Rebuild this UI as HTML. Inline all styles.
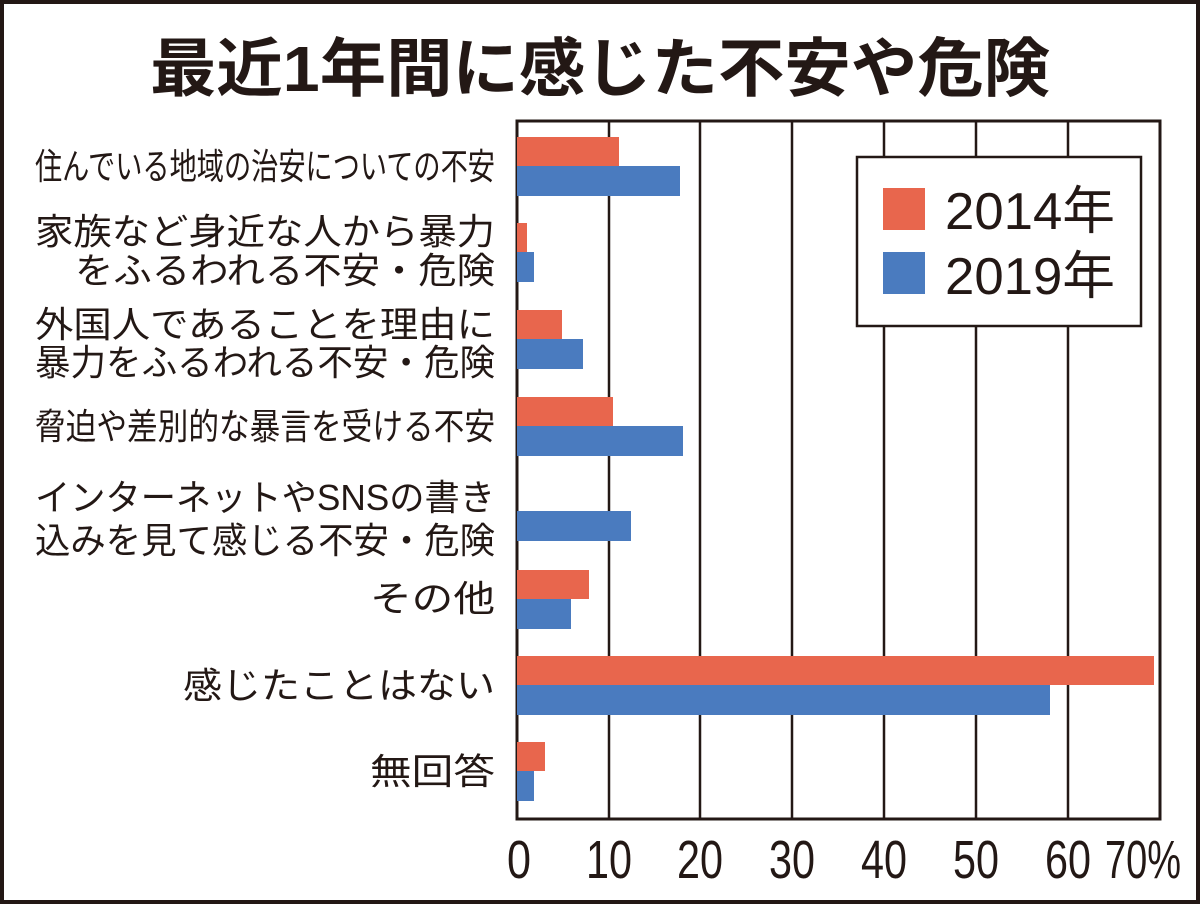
<!DOCTYPE html>
<html><head><meta charset="utf-8"><style>
html,body{margin:0;padding:0;background:#fff}
svg{display:block}
text{font-family:"Liberation Sans","Noto Sans CJK JP",sans-serif;fill:#231815}
</style></head><body>
<svg width="1200" height="904" viewBox="0 0 1200 904" xmlns="http://www.w3.org/2000/svg">
<rect x="2" y="2" width="1196" height="900" fill="#fff" stroke="#231815" stroke-width="4"/>
<text x="150" y="91" font-size="64" font-weight="bold" textLength="900" lengthAdjust="spacingAndGlyphs">最近1年間に感じた不安や危険</text>
<g font-size="36">
<text x="35" y="179" textLength="460" lengthAdjust="spacingAndGlyphs">住んでいる地域の治安についての不安</text>
<text x="35" y="244" textLength="460" lengthAdjust="spacingAndGlyphs">家族など身近な人から暴力</text>
<text x="75" y="283" textLength="420" lengthAdjust="spacingAndGlyphs">をふるわれる不安・危険</text>
<text x="35" y="337" textLength="460" lengthAdjust="spacingAndGlyphs">外国人であることを理由に</text>
<text x="35" y="375" textLength="460" lengthAdjust="spacingAndGlyphs">暴力をふるわれる不安・危険</text>
<text x="35" y="439" textLength="460" lengthAdjust="spacingAndGlyphs">脅迫や差別的な暴言を受ける不安</text>
<text x="35" y="510" textLength="460" lengthAdjust="spacingAndGlyphs">インターネットやSNSの書き</text>
<text x="35" y="553" textLength="460" lengthAdjust="spacingAndGlyphs">込みを見て感じる不安・危険</text>
<text x="370" y="611" textLength="125" lengthAdjust="spacingAndGlyphs">その他</text>
<text x="183" y="698" textLength="312" lengthAdjust="spacingAndGlyphs">感じたことはない</text>
<text x="370" y="784" textLength="125" lengthAdjust="spacingAndGlyphs">無回答</text>
</g>
<g stroke="#231815" stroke-width="2.5">
<line x1="609" y1="121" x2="609" y2="819"/>
<line x1="700" y1="121" x2="700" y2="819"/>
<line x1="792" y1="121" x2="792" y2="819"/>
<line x1="884" y1="121" x2="884" y2="819"/>
<line x1="976" y1="121" x2="976" y2="819"/>
<line x1="1068" y1="121" x2="1068" y2="819"/>
</g>
<rect x="517" y="121" width="643" height="698" fill="none" stroke="#231815" stroke-width="3"/>
<g fill="#e8664d">
<rect x="517" y="137" width="102" height="29"/>
<rect x="517" y="223" width="10" height="29"/>
<rect x="517" y="310" width="45" height="29"/>
<rect x="517" y="397" width="96" height="29"/>
<rect x="517" y="570" width="72" height="29"/>
<rect x="517" y="656" width="637" height="29"/>
<rect x="517" y="742" width="28" height="29"/>
</g>
<g fill="#4a7bbf">
<rect x="517" y="166" width="163" height="30"/>
<rect x="517" y="252" width="17" height="30"/>
<rect x="517" y="339" width="66" height="30"/>
<rect x="517" y="426" width="166" height="30"/>
<rect x="517" y="511" width="114" height="30"/>
<rect x="517" y="599" width="54" height="30"/>
<rect x="517" y="685" width="533" height="30"/>
<rect x="517" y="771" width="17" height="30"/>
</g>
<rect x="857" y="157" width="284" height="169" fill="#fff" stroke="#231815" stroke-width="2.5"/>
<rect x="883" y="188" width="42" height="42" fill="#e8664d"/>
<rect x="883" y="252" width="42" height="42" fill="#4a7bbf"/>
<text x="945" y="229" font-size="52" textLength="170" lengthAdjust="spacingAndGlyphs">2014年</text>
<text x="945" y="294" font-size="52" textLength="170" lengthAdjust="spacingAndGlyphs">2019年</text>
<g font-size="54" text-anchor="middle">
<text x="519" y="878" textLength="24" lengthAdjust="spacingAndGlyphs">0</text>
<text x="609" y="878" textLength="46" lengthAdjust="spacingAndGlyphs">10</text>
<text x="700" y="878" textLength="46" lengthAdjust="spacingAndGlyphs">20</text>
<text x="792" y="878" textLength="46" lengthAdjust="spacingAndGlyphs">30</text>
<text x="884" y="878" textLength="46" lengthAdjust="spacingAndGlyphs">40</text>
<text x="976" y="878" textLength="46" lengthAdjust="spacingAndGlyphs">50</text>
<text x="1068" y="878" textLength="46" lengthAdjust="spacingAndGlyphs">60</text>
<text x="1143" y="878" textLength="76" lengthAdjust="spacingAndGlyphs">70%</text>
</g>
</svg>
</body></html>
